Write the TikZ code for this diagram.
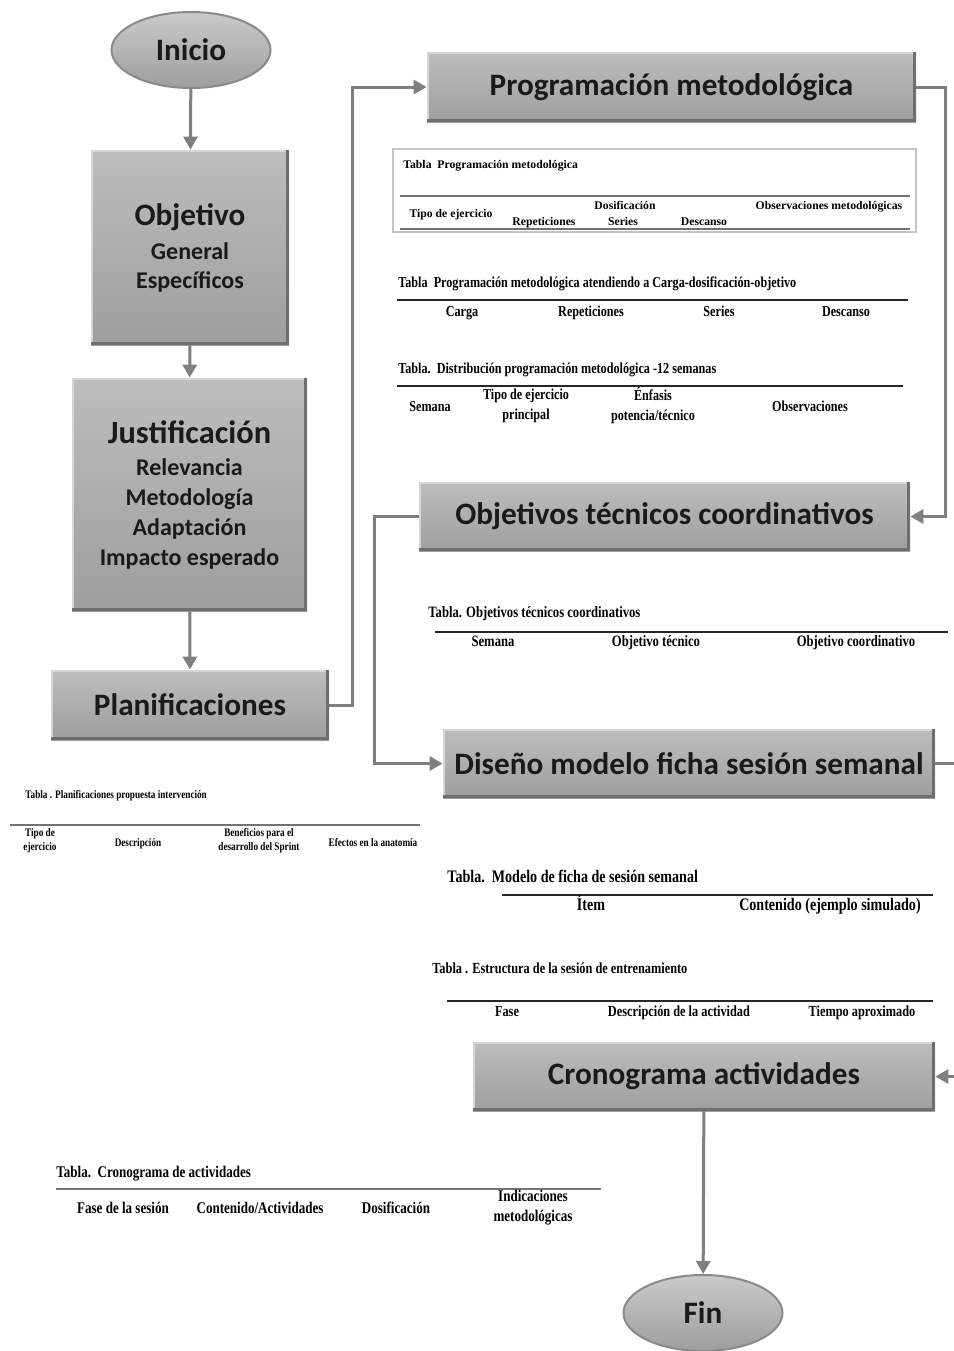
\documentclass[tikz,border=0pt]{standalone}
\usepackage{fontspec}
\setmainfont{Carlito}
\newfontfamily\tabc[FakeStretch=0.8]{Liberation Serif}
\newfontfamily\tabn{Liberation Serif}
\usetikzlibrary{arrows.meta,calc,shapes.geometric}
\definecolor{boxtop}{HTML}{BDBDBD}
\definecolor{boxbot}{HTML}{9E9E9E}
\definecolor{edgedark}{HTML}{6E6E6E}
\definecolor{edgelight}{HTML}{D6D6D6}
\definecolor{linegray}{HTML}{7F7F7F}
\definecolor{ellline}{HTML}{8A8A8A}
\definecolor{txt}{HTML}{1A1A1A}
\definecolor{framegray}{HTML}{C4C4C4}
\newcommand{\bevelbox}[1]{%
  \draw[edgedark, line width=1.5pt] ([xshift=-0.75pt]#1.north east) -- ([xshift=-0.75pt,yshift=0.75pt]#1.south east) -- ([yshift=0.75pt]#1.south west);
  \draw[edgelight, line width=1pt] ([xshift=0.5pt,yshift=1.5pt]#1.south west) -- ([xshift=0.5pt,yshift=-0.5pt]#1.north west) -- ([xshift=-1.5pt,yshift=-0.5pt]#1.north east);
}
\tikzset{
  flowbox/.style={rectangle, top color=boxtop, bottom color=boxbot, draw=none, text=txt,
    font=\bfseries\fontsize{15.6}{18}\selectfont, align=center, inner sep=0pt},
  term/.style={ellipse, top color=boxtop!80!white, bottom color=boxbot, draw=ellline, line width=1pt,
    text=txt, font=\bfseries\fontsize{15.6}{18}\selectfont, inner sep=0pt,
    minimum width=79.5pt, minimum height=38pt},
  arr/.style={draw=linegray, line width=1.5pt, -{Triangle[width=7pt,length=6.5pt]}},
  tabtitle/.style={anchor=west, inner sep=0pt, text=black, text height=1.45ex, text depth=0.35ex},
  colhead/.style={inner sep=0pt, text=black, text height=1.45ex, text depth=0.35ex},
  colhead2/.style={inner sep=0pt, align=center, text=black},
  rulel/.style={draw=black!85, line width=0.6pt},
  ruleg/.style={draw=black!55, line width=0.9pt},
  fA/.style={font=\tabn\bfseries\fontsize{5.85}{7}\selectfont},
  fB/.style={font=\tabc\bfseries\fontsize{7.6}{10}\selectfont},
  fC/.style={font=\tabc\bfseries\fontsize{5.75}{7}\selectfont},
  fD/.style={font=\tabc\bfseries\fontsize{8.8}{10}\selectfont},
  fE/.style={font=\tabc\bfseries\fontsize{7.9}{10}\selectfont},
  fF/.style={font=\tabc\bfseries\fontsize{8.15}{10}\selectfont},
  fG/.style={font=\tabc\bfseries\fontsize{7.7}{10}\selectfont},
}
\begin{document}
\begin{tikzpicture}[x=0.5pt,y=-0.5pt]
\clip (0,0) rectangle (954,1351);
\fill[white] (0,0) rectangle (954,1351);

% ---------- flow nodes ----------
\node[term] (ini) at (191,50) {Inicio};
\node[flowbox, font=\bfseries\fontsize{12}{14.5}\selectfont, minimum width=99pt, minimum height=97.5pt] (objv) at (190,247.5)
  {{\fontsize{15.6}{14.5}\selectfont Objetivo}\\[2.5pt]General\\Específicos};
\node[flowbox, font=\bfseries\fontsize{12}{15}\selectfont, minimum width=117.5pt, minimum height=116.5pt] (just) at (189.5,494.5)
  {{\fontsize{16.2}{15}\selectfont Justificación}\\[1pt]Relevancia\\Metodología\\Adaptación\\Impacto esperado};
\node[flowbox, minimum width=139pt, minimum height=35pt] (plan) at (190,705) {Planificaciones};
\node[flowbox, minimum width=244.5pt, minimum height=35pt] (prog) at (671.5,87) {Programación metodológica};
\node[flowbox, minimum width=245.5pt, minimum height=34.5pt] (otc) at (664.5,516.5) {Objetivos técnicos coordinativos};
\node[flowbox, minimum width=246pt, minimum height=34.5pt] (dis) at (689,763.5) {Diseño modelo ficha sesión semanal};
\node[flowbox, minimum width=231pt, minimum height=34.5pt] (cron) at (704,1076.5) {Cronograma actividades};
\node[term] (fin) at (703,1313) {Fin};

\bevelbox{objv}
\bevelbox{just}
\bevelbox{plan}
\bevelbox{prog}
\bevelbox{otc}
\bevelbox{dis}
\bevelbox{cron}

% ---------- connectors ----------
\draw[arr] (ini) -- (objv);
\draw[arr] (objv) -- (just);
\draw[arr] (just) -- (plan);
\draw[arr] (plan.east) -- ++(23,0) |- (prog.west);
\draw[arr] (prog.east) -- ++(29,0) |- (otc.east);
\draw[arr] (otc.west) -- ++(-44,0) |- (dis.west);
\draw[arr] (dis.east) -- ++(40,0) |- (cron.east);
\draw[arr] (cron) -- (fin);

% ---------- table 1 (framed) ----------
\draw[framegray, line width=0.8pt] (393,149) rectangle (916,232);
\node[tabtitle, fA] (t1) at (403,163) {Tabla\ \ Programación metodológica};
\draw[ruleg] (400,196) -- (910,196);
\draw[ruleg] (400,229) -- (910,229);
\node[colhead, fA] (t1a) at (451,212) {Tipo de ejercicio};
\node[colhead, fA] (t1b) at (625,204) {Dosificación};
\node[colhead, fA] (t1c) at (544,220) {Repeticiones};
\node[colhead, fA] (t1d) at (623,220) {Series};
\node[colhead, fA] (t1e) at (704,220) {Descanso};
\node[colhead, fA] (t1f) at (829,204) {Observaciones metodológicas};

% ---------- table 2 ----------
\node[tabtitle, fB] (t2) at (398,282) {Tabla\ \ Programación metodológica atendiendo a Carga-dosificación-objetivo};
\draw[rulel] (397,300) -- (908,300);
\node[colhead, fB] (t2a) at (462,311) {Carga};
\node[colhead, fB] (t2b) at (591,311) {Repeticiones};
\node[colhead, fB] (t2c) at (719,311) {Series};
\node[colhead, fB] (t2d) at (846,311) {Descanso};

% ---------- table 3 ----------
\node[tabtitle, fB] (t3) at (398,368) {Tabla.\ \ Distribución programación metodológica -12 semanas};
\draw[rulel] (397,386) -- (903,386);
\node[colhead, fB] (t3a) at (430,406) {Semana};
\node[colhead2, fB] (t3b) at (526,406) {Tipo de ejercicio\\principal};
\node[colhead2, fB] (t3c) at (653,406) {Énfasis\\potencia/técnico};
\node[colhead, fB] (t3d) at (810,406) {Observaciones};

% ---------- table 4 ----------
\node[tabtitle, fE] (t4) at (428,612) {Tabla. Objetivos técnicos coordinativos};
\draw[rulel] (435,632) -- (948,632);
\node[colhead, fE] (t4a) at (493,641) {Semana};
\node[colhead, fE] (t4b) at (656,641) {Objetivo técnico};
\node[colhead, fE] (t4c) at (856,641) {Objetivo coordinativo};

% ---------- table 5 ----------
\node[tabtitle, fC] (t5) at (25,793) {Tabla . Planificaciones propuesta intervención};
\draw[ruleg] (10,825) -- (420,825);
\node[colhead2, fC] (t5a) at (40,841) {Tipo de\\ejercicio};
\node[colhead, fC] (t5b) at (138,841) {Descripción};
\node[colhead2, fC] (t5c) at (259,841) {Beneficios para el\\desarrollo del Sprint};
\node[colhead, fC] (t5d) at (373,841) {Efectos en la anatomía};

% ---------- table 6 ----------
\node[tabtitle, fD] (t6) at (447,877) {Tabla.\ \ Modelo de ficha de sesión semanal};
\draw[rulel] (502,895) -- (933,895);
\node[colhead, fD] (t6a) at (591,905) {Ítem};
\node[colhead, fD] (t6b) at (830,905) {Contenido (ejemplo simulado)};

% ---------- table 7 ----------
\node[tabtitle, fG] (t7) at (432,968) {Tabla . Estructura de la sesión de entrenamiento};
\draw[rulel] (447,1001) -- (933,1001);
\node[colhead, fG] (t7a) at (507,1011) {Fase};
\node[colhead, fG] (t7b) at (679,1011) {Descripción de la actividad};
\node[colhead, fG] (t7c) at (862,1011) {Tiempo aproximado};

% ---------- table 8 ----------
\node[tabtitle, fF] (t8) at (56,1172) {Tabla.\ \ Cronograma de actividades};
\draw[ruleg] (56,1189) -- (601,1189);
\node[colhead, fF] (t8a) at (123,1208) {Fase de la sesión};
\node[colhead, fF] (t8b) at (260,1208) {Contenido/Actividades};
\node[colhead, fF] (t8c) at (396,1208) {Dosificación};
\node[colhead2, fF] (t8d) at (533,1208) {Indicaciones\\metodológicas};
\end{tikzpicture}
\end{document}
